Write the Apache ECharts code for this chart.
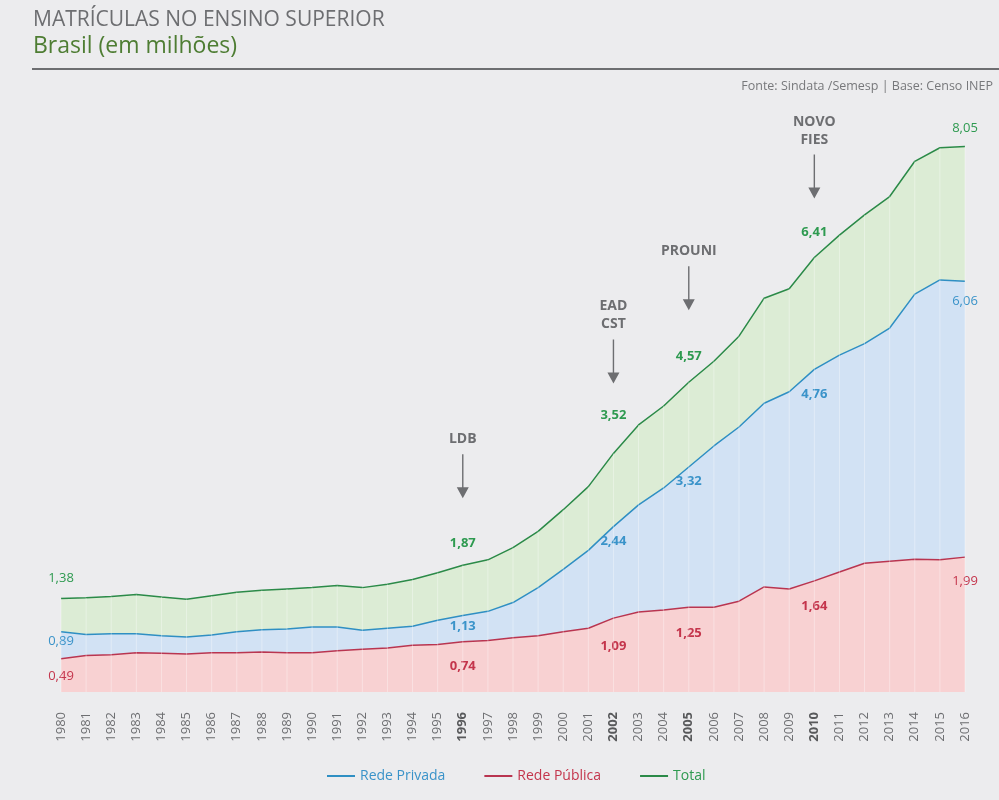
<!DOCTYPE html>
<html>
<head>
<meta charset="utf-8">
<script src="https://cdn.jsdelivr.net/npm/echarts@6/dist/echarts.min.js"></script>
<style>
html,body{margin:0;padding:0;background:#ececee;}
#c{width:999px;height:800px;}
</style>
</head>
<body>
<div id="c"></div>
<script>
// ---- data (milhões de matrículas) ----
const years = ['1980','1981','1982','1983','1984','1985','1986','1987','1988','1989','1990','1991','1992','1993','1994','1995','1996','1997','1998','1999','2000','2001','2002','2003','2004','2005','2006','2007','2008','2009','2010','2011','2012','2013','2014','2015','2016'];
const total    = [1.38,1.39,1.41,1.44,1.40,1.37,1.42,1.47,1.50,1.52,1.54,1.57,1.54,1.59,1.66,1.76,1.87,1.95,2.13,2.37,2.69,3.03,3.52,3.94,4.22,4.57,4.88,5.25,5.81,5.95,6.41,6.74,7.04,7.31,7.83,8.03,8.05];
const privada  = [0.89,0.85,0.86,0.86,0.83,0.81,0.84,0.89,0.92,0.93,0.96,0.96,0.91,0.94,0.97,1.06,1.13,1.19,1.32,1.54,1.81,2.09,2.44,2.76,3.01,3.32,3.63,3.91,4.26,4.43,4.76,4.97,5.14,5.37,5.87,6.08,6.06];
const publica  = [0.49,0.54,0.55,0.58,0.57,0.56,0.58,0.58,0.59,0.58,0.58,0.61,0.63,0.65,0.69,0.70,0.74,0.76,0.80,0.83,0.89,0.94,1.09,1.18,1.21,1.25,1.25,1.34,1.55,1.52,1.64,1.77,1.90,1.93,1.96,1.95,1.99];
const labeledYears = ['1980','1996','2002','2005','2010','2016'];
const boldYears = ['1996','2002','2005','2010'];
const eventYears = ['1996','2002','2005','2010'];
const eventTexts = ['LDB','EAD\nCST','PROUNI','NOVO\nFIES'];
const seriesNames = ['Rede Privada','Rede Pública','Total'];
const titleText = 'MATRÍCULAS NO ENSINO SUPERIOR';
const subtitleText = 'Brasil (em milhões)';
const sourceText = 'Fonte: Sindata /Semesp | Base: Censo INEP';

// ---- styles ----
const FONT = 'Open Sans';
const GREY = '#6d6e71';
const C = {
  total:   {line:'#2b8a48', area:'#dcecd5', label:'#2e9a50'},
  privada: {line:'#2f8fc3', area:'#d2e2f4', label:'#3a93c9'},
  publica: {line:'#b93550', area:'#f8d1d2', label:'#c4354c'}
};
// label distances (px) for each labelled year, per series
const labelDist = {
  total:   [14, 15, 32, 19, 19, 12],
  privada: [ 3,  4,  8,  8, 18, 14],
  publica: [11, 18, 22, 20, 19, 18]
};
const eventOffsets = [89, 92, 94, 81];
const fmt = v => v.toFixed(2).replace('.', ',');

function buildData(values, dists){
  return values.map((v,i) => {
    const k = labeledYears.indexOf(years[i]);
    return k >= 0
      ? {value:v, label:{show:true, distance:dists[k], fontWeight: boldYears.includes(years[i]) ? 'bold' : 'normal'}}
      : v;
  });
}
function areaSeries(name, values, col, pos, dists, z){
  return {
    name, type:'line', data: buildData(values, dists), z,
    symbol:'circle', symbolSize:0, showSymbol:true, showAllSymbol:true,
    lineStyle:{color:col.line, width:1.5},
    itemStyle:{color:col.line},
    areaStyle:{color:col.area, opacity:1},
    label:{show:false, position:pos, color:col.label, fontSize:13, fontFamily:FONT,
      formatter:p => fmt(p.value)},
    labelLayout:{hideOverlap:false},
    emphasis:{disabled:true}
  };
}

const totalSeries = areaSeries('Total', total, C.total, 'top', labelDist.total, 2);
totalSeries.markPoint = {
  symbol:'path://M5.3,0 L6.7,0 L6.7,33 L12,33 L6,44 L0,33 L5.3,33 Z',
  symbolSize:[12,44], symbolKeepAspect:false, silent:true,
  itemStyle:{color:GREY, opacity:1},
  label:{show:true, position:'top', distance:6, color:GREY, fontWeight:'bold', fontSize:14, lineHeight:18, fontFamily:FONT},
  data: eventYears.map((y,k) => ({
    coord:[y, total[years.indexOf(y)]],
    symbolOffset:[0, -eventOffsets[k]],
    label:{formatter: eventTexts[k]}
  }))
};

const chart = echarts.init(document.getElementById('c'), null, {renderer:'canvas'});
chart.setOption({
  backgroundColor:'#ececee',
  animation:false,
  textStyle:{fontFamily:FONT},
  title:[
    {text:titleText, subtext:subtitleText, left:28, top:5, itemGap:4,
     textStyle:{color:GREY, fontSize:21, fontWeight:'normal', fontFamily:FONT},
     subtextStyle:{color:'#4e7d33', fontSize:23, fontFamily:FONT}},
    {text:sourceText, right:1, top:75,
     textStyle:{color:'#77787b', fontSize:12.5, fontWeight:'normal', fontFamily:FONT}}
  ],
  graphic:[{type:'line', shape:{x1:32, y1:69, x2:999, y2:69}, style:{stroke:GREY, lineWidth:2}}],
  legend:{
    left:322, top:764, itemWidth:28, itemHeight:2, itemGap:39, icon:'rect',
    textStyle:{fontSize:14, fontFamily:FONT},
    data:[
      {name:seriesNames[0], textStyle:{color:C.privada.label}},
      {name:seriesNames[1], textStyle:{color:C.publica.label}},
      {name:seriesNames[2], textStyle:{color:C.total.label}}
    ]
  },
  grid:{left:61, right:34, top:82, bottom:108},
  xAxis:{
    type:'category', data:years, boundaryGap:false,
    axisLine:{show:false}, axisTick:{show:false}, splitLine:{show:false},
    axisLabel:{interval:0, rotate:90, margin:20, color:GREY, fontSize:13, fontFamily:FONT,
      formatter: v => boldYears.includes(v) ? '{b|' + v + '}' : v,
      rich:{b:{fontWeight:'bold', color:'#58595b', fontSize:13, fontFamily:FONT}}}
  },
  yAxis:{type:'value', min:0, max:9, show:false, splitLine:{show:false}},
  series:[
    totalSeries,
    areaSeries('Rede Privada', privada, C.privada, 'bottom', labelDist.privada, 3),
    areaSeries('Rede Pública', publica, C.publica, 'bottom', labelDist.publica, 4),
    {name:'grade', type:'bar', data:total, barWidth:1, z:5, silent:true,
     itemStyle:{color:'rgba(255,255,255,0.35)'}, emphasis:{disabled:true}}
  ]
});
</script>
</body>
</html>
